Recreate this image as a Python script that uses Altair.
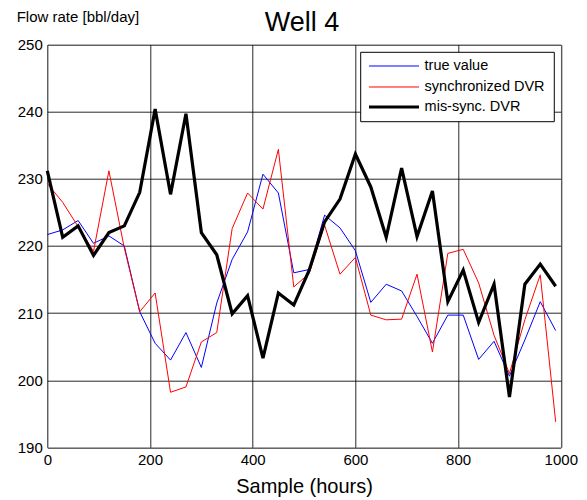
import altair as alt
import pandas as pd

hours = list(range(0, 1000, 30))

true_value = [221.7, 222.4, 223.8, 220.4, 221.5, 220.0, 210.2, 205.5, 203.0, 207.1,
              201.9, 211.5, 218.0, 222.1, 230.7, 227.9, 216.0, 216.5, 224.6, 222.7,
              219.3, 211.6, 214.3, 213.3, 209.5, 205.5, 209.7, 209.7, 203.1, 205.8,
              200.6, 206.0, 211.7, 207.4]

sync_dvr = [229.3, 226.5, 222.9, 219.2, 231.2, 219.7, 210.2, 213.0, 198.2, 199.0,
            205.7, 207.1, 222.6, 227.9, 225.5, 234.4, 213.9, 215.9, 223.1, 215.8,
            218.3, 209.7, 209.0, 209.1, 215.8, 204.2, 218.9, 219.5, 214.5, 206.7,
            201.0, 209.0, 215.7, 193.8]

missync_dvr = [231.2, 221.3, 223.0, 218.6, 222.0, 223.0, 228.0, 240.4, 227.7, 239.7,
               222.0, 218.7, 209.9, 212.6, 203.3, 213.0, 211.2, 216.4, 223.6, 227.0,
               233.7, 228.8, 221.3, 231.6, 221.4, 228.2, 211.7, 216.4, 208.6, 214.3,
               197.5, 214.3, 217.3, 214.0]

series_names = ["true value", "synchronized DVR", "mis-sync. DVR"]
series_values = [true_value, sync_dvr, missync_dvr]
series_colors = ["#0000ff", "#ff0000", "#000000"]
series_widths = [1, 1, 3.2]

x_ticks = [0, 200, 400, 600, 800, 1000]
y_ticks = [190, 200, 210, 220, 230, 240, 250]

FONT = "Liberation Sans"

x_enc = alt.X("hours:Q", title="Sample (hours)",
              scale=alt.Scale(domain=[0, 1000], nice=False),
              axis=alt.Axis(values=x_ticks, format="d", grid=True, labelFlush=False,
                            gridColor="#000000", gridOpacity=0.85, gridWidth=1,
                            domain=False, ticks=False, labelFontSize=15,
                            labelColor="#000000", labelPadding=5, labelFont=FONT,
                            titleFont=FONT, titleFontSize=20, titleFontWeight="normal",
                            titleColor="#000000", titlePadding=9))
y_enc = alt.Y("value:Q", title=None,
              scale=alt.Scale(domain=[190, 250], nice=False, zero=False),
              axis=alt.Axis(values=y_ticks, grid=True, labelFlush=False,
                            gridColor="#000000", gridOpacity=0.85, gridWidth=1,
                            domain=False, ticks=False, labelFontSize=15,
                            labelColor="#000000", labelPadding=5, labelFont=FONT))

layers = []
for name, vals, col, w in zip(series_names, series_values, series_colors, series_widths):
    d = pd.DataFrame({"hours": hours, "value": vals, "series": name})
    layers.append(
        alt.Chart(d).mark_line(color=col, strokeWidth=w, strokeJoin="miter",
                               strokeCap="butt").encode(x=x_enc, y=y_enc)
    )

# legend box (top-right, inside the plot)
blank = pd.DataFrame({"a": [0]})
layers.append(
    alt.Chart(blank).mark_rect(fill="#ffffff", stroke="#000000", strokeWidth=1).encode(
        x=alt.value(313.4), x2=alt.value(507), y=alt.value(7.6), y2=alt.value(77))
)
row_y = [21.3, 42.3, 62.3]
for name, col, w, ry in zip(series_names, series_colors, series_widths, row_y):
    t = pd.DataFrame({"t": [name]})
    layers.append(
        alt.Chart(t).mark_rule(color=col, strokeWidth=w, strokeCap="butt").encode(
            x=alt.value(321.7), x2=alt.value(371.7), y=alt.value(ry))
    )
    layers.append(
        alt.Chart(t).mark_text(font=FONT, fontSize=14.5, align="left",
                               baseline="middle", color="#000000").encode(
            text="t:N", x=alt.value(377.3), y=alt.value(ry))
    )

layers.append(
    alt.Chart(pd.DataFrame({"t": ["Flow rate [bbl/day]"]})).mark_text(
        font=FONT, fontSize=15, align="left", baseline="middle", color="#000000"
    ).encode(text="t:N", x=alt.value(-30.6), y=alt.value(-27.7))
)
layers.append(
    alt.Chart(pd.DataFrame({"t": ["Well 4"]})).mark_text(
        font=FONT, fontSize=27, align="center", baseline="middle", color="#000000"
    ).encode(text="t:N", x=alt.value(254.7), y=alt.value(-21.5))
)

final = alt.layer(*layers).properties(
    width=513.5, height=402.6,
    autosize=alt.AutoSizeParams(type="none"),
    padding={"left": 39.3, "top": 36.7, "right": 18, "bottom": 50},
).configure_view(stroke="#000000", strokeWidth=1).configure(background="#ffffff")

final.save("out.html", embed_options={"renderer": "svg", "actions": False})
